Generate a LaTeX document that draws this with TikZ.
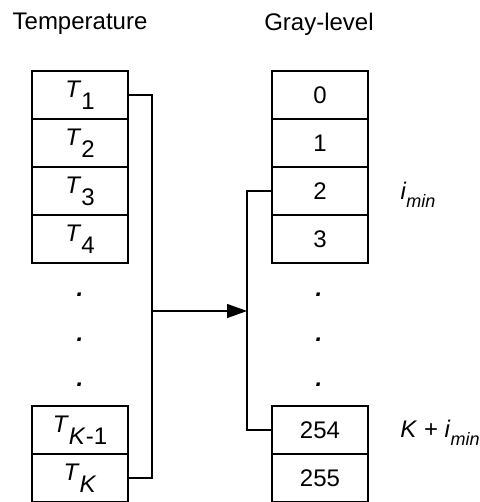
\documentclass[tikz,border=0pt]{standalone}
\usepackage{fontspec}
\setmainfont{Liberation Sans}
\usetikzlibrary{arrows.meta}
\newcommand{\lowsub}[1]{\raisebox{-0.5em}{#1}}
\newcommand{\minsub}[1]{\raisebox{-0.35em}{\fontsize{18}{19}\selectfont\itshape #1}}
\tikzset{
  cell/.style={draw, line width=1.3pt, minimum width=96pt, minimum height=48pt, inner sep=0pt},
  wire/.style={line width=1.3pt},
  vdot/.style={inner sep=0pt}
}
\begin{document}
\begin{tikzpicture}[x=1pt,y=-1pt,font=\fontsize{24}{26}\selectfont]
\useasboundingbox (0,0) rectangle (479,502);

\node (temp) at (80,24) {Temperature};
\node (gray) at (319,24) {Gray-level};

% temperature cells
\node[cell] (t1) at (80,95) {\textit{T}\lowsub{1}};
\node[cell] (t2) at (80,143) {\textit{T}\lowsub{2}};
\node[cell] (t3) at (80,191) {\textit{T}\lowsub{3}};
\node[cell] (t4) at (80,239) {\textit{T}\lowsub{4}};
\node[cell] (tk1) at (80,430) {\textit{T}\lowsub{\textit{K}-1}};
\node[cell] (tk) at (80,478) {\textit{T}\lowsub{\textit{K}}};

% gray-level cells
\node[cell] (g0) at (320,95) {0};
\node[cell] (g1) at (320,143) {1};
\node[cell] (g2) at (320,191) {2};
\node[cell] (g3) at (320,239) {3};
\node[cell] (g254) at (320,430) {254};
\node[cell] (g255) at (320,478) {255};

\foreach \y/\n in {295/1,340/2,385/3} {
  \node[vdot] (dl\n) at (80,\y) {\textbf{\textit{.}}};
  \node[vdot] (dr\n) at (319,\y) {\textbf{\textit{.}}};
}

\node (imin) at (418,195) {\textit{i}\minsub{min}};
\node (kimin) at (440,433) {\textit{K} + \textit{i}\minsub{min}};

\coordinate (split) at (152,311);
\coordinate (join) at (247,311);

\draw[wire] (t1.east) -| (split) |- (tk.east);
\draw[wire,-{Triangle[length=20pt,width=14pt]}] (split) -- (join);
\draw[wire] (g2.west) -| (join) |- (g254.west);
\end{tikzpicture}
\end{document}
